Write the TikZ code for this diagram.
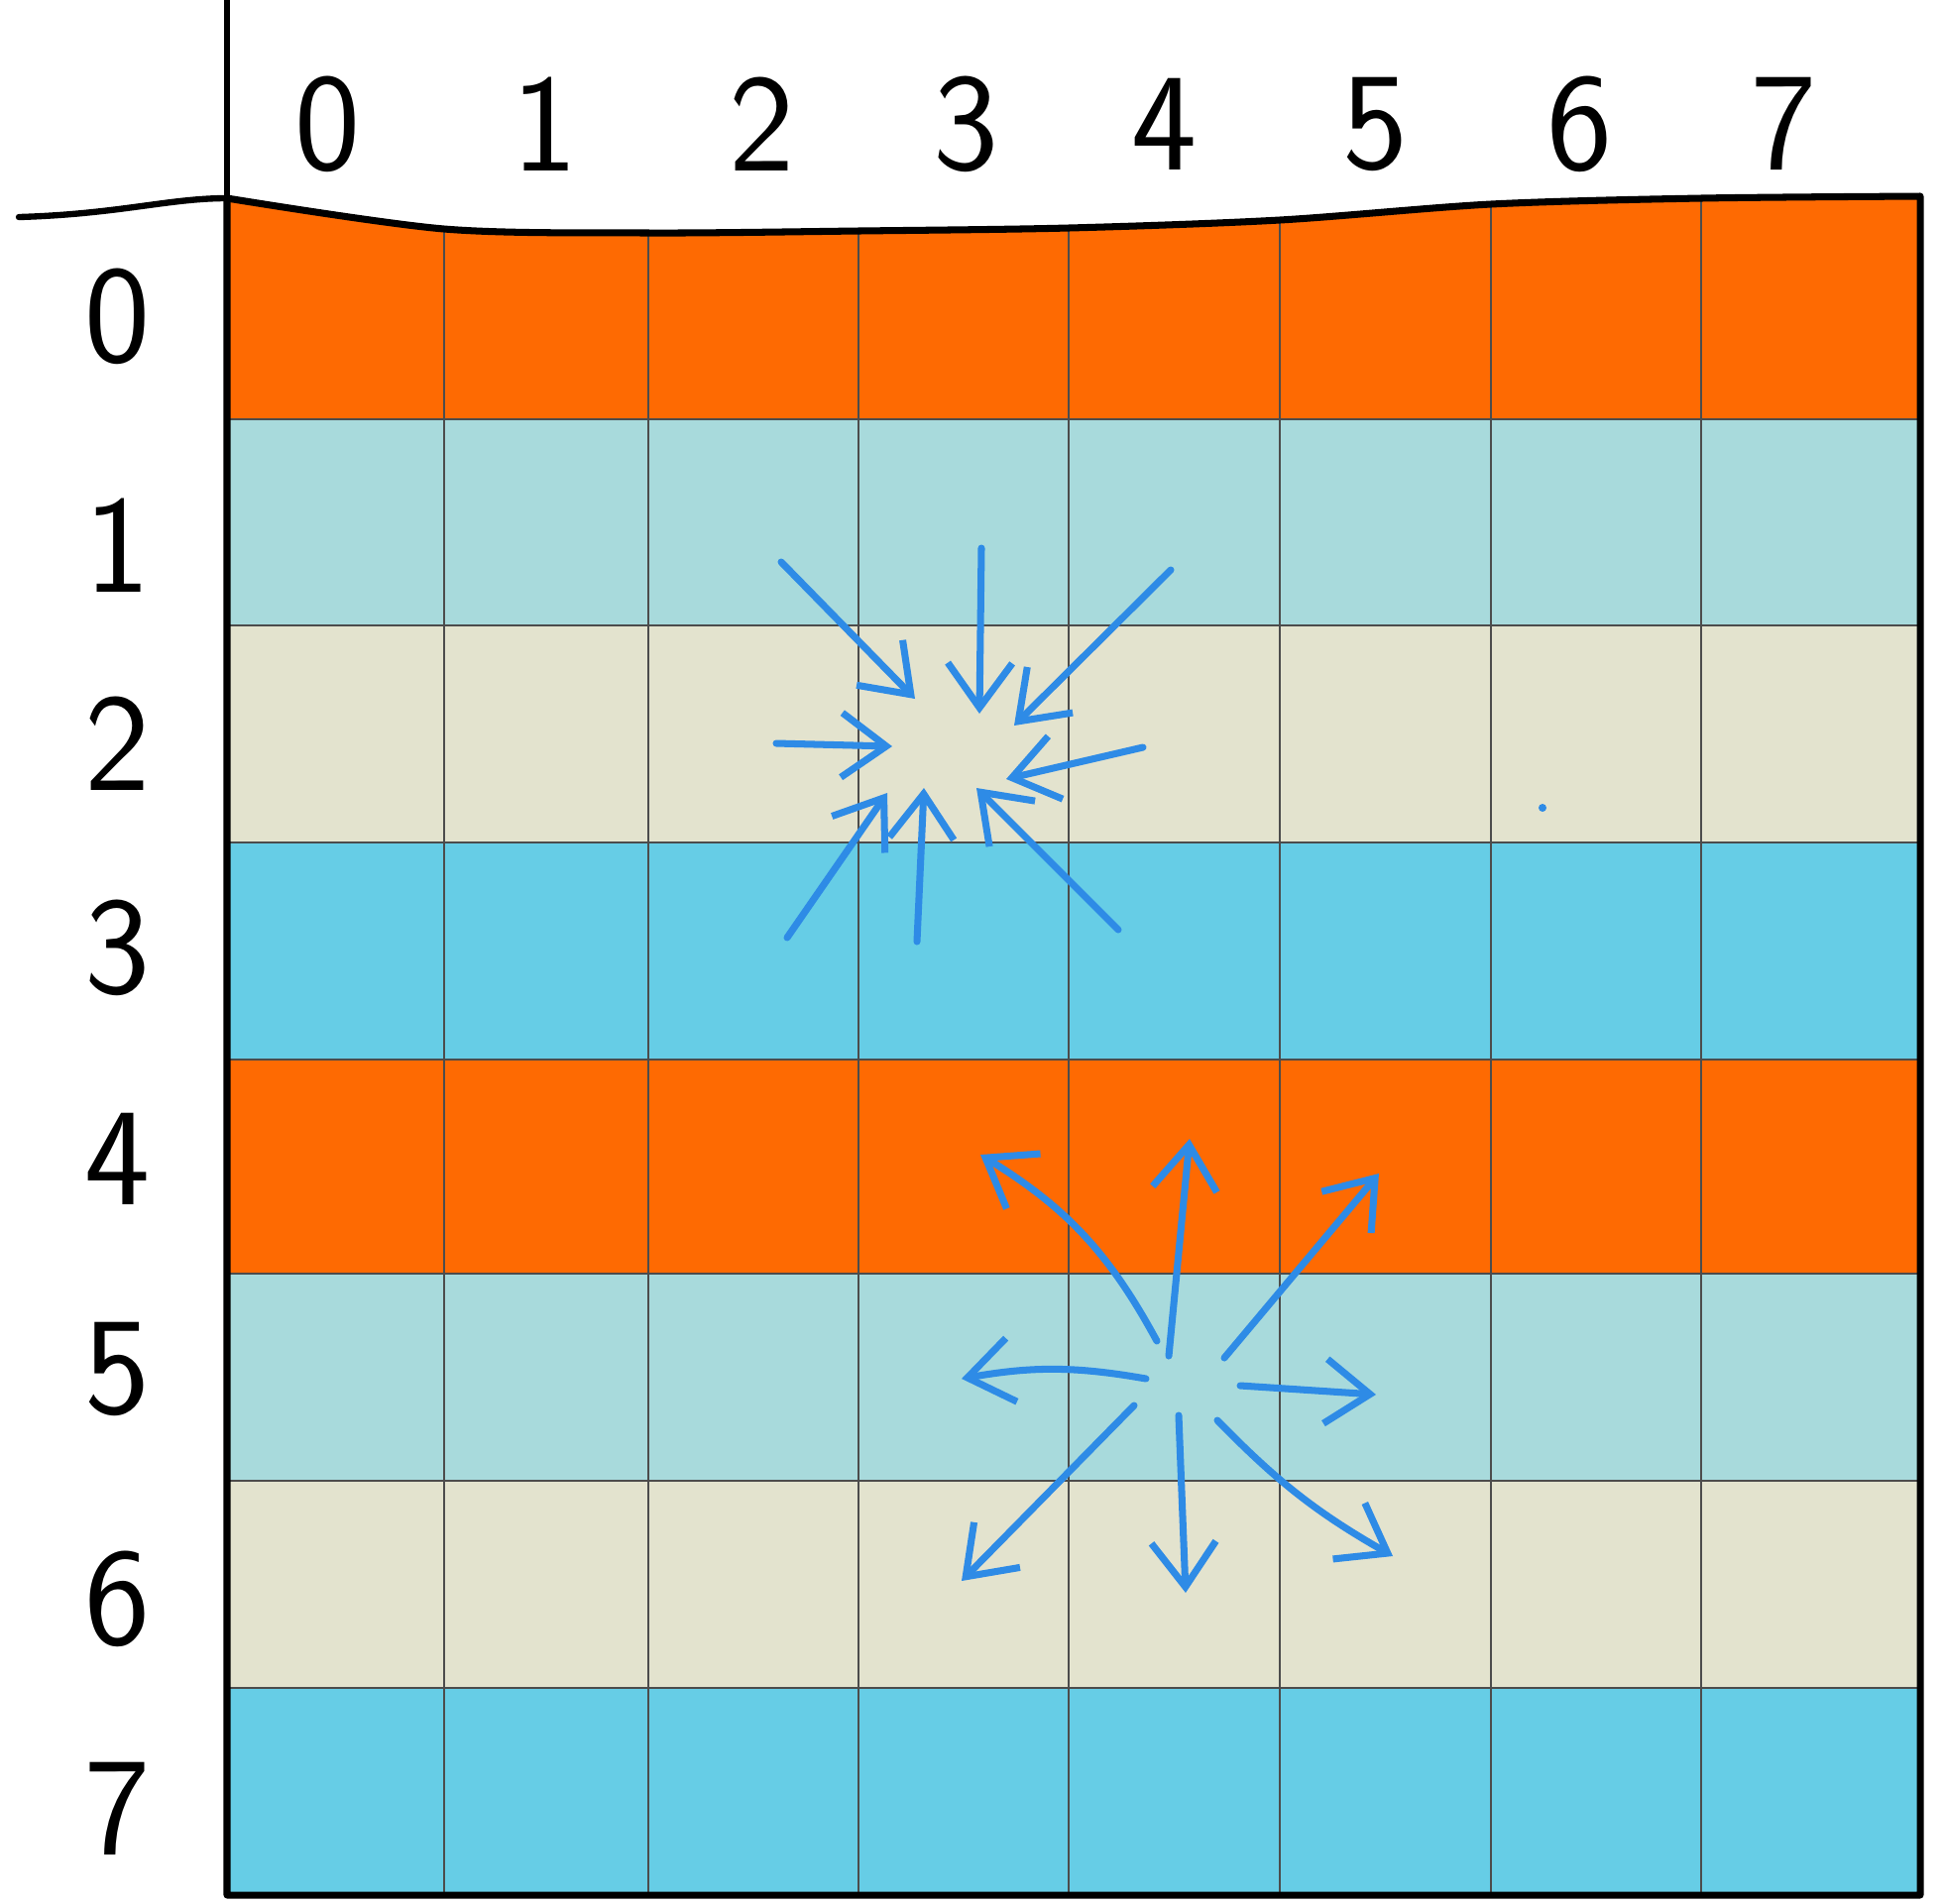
\documentclass[tikz,border=0pt]{standalone}
\usetikzlibrary{arrows.meta}

\definecolor{roworange}{HTML}{FE6A02}
\definecolor{rowteal}{HTML}{A8DADC}
\definecolor{rowbeige}{HTML}{E3E3CE}
\definecolor{rowsky}{HTML}{66CDE6}
\definecolor{penblue}{HTML}{2E8BE6}

\begin{document}
\begin{tikzpicture}[x=0.01cm,y=-0.01cm,>={Straight Barb[length=4.5mm,width=6.5mm]},
  lbl/.style={font=\sffamily\fontsize{40}{40}\selectfont, inner sep=0pt},
  cellline/.style={draw=black!70, line width=0.6pt},
  axis/.style={draw=black, line width=1.8pt, line cap=round},
  border/.style={draw=black, line width=2pt, line join=round},
  arr/.style={->, draw=penblue, line width=2pt, line cap=round}]
  \useasboundingbox (0,0) rectangle (1960,1920);

  %rows (row 0 has the wavy top edge)
  \fill[roworange] plot[smooth] coordinates {(229,200) (448,231) (654,235) (866,233) (1078,230) (1291,222) (1504,206) (1716,200) (1937,198)}
    -- (1937,423) -- (229,423) -- cycle;
  \foreach \top/\bot/\col in {423/631/rowteal, 631/850/rowbeige, 850/1069/rowsky, 1069/1285/roworange,
                             1285/1494/rowteal, 1494/1703/rowbeige, 1703/1912/rowsky}
    \fill[\col] (229,\top) rectangle (1937,\bot);

  %cell lines
  \foreach \y in {423,631,850,1069,1285,1494,1703}
    \draw[cellline] (229,\y) -- (1937,\y);
  \foreach \x/\t in {448/231, 654/235, 866/233, 1078/230, 1291/222, 1504/206, 1716/200}
    \draw[cellline] (\x,\t) -- (\x,1912);

  %outer border and axes
  \coordinate (org) at (229,200);
  \draw[border] plot[smooth] coordinates {(229,200) (448,231) (654,235) (866,233) (1078,230) (1291,222) (1504,206) (1716,200) (1937,198)}
    -- (1937,1912) -- (229,1912) -- cycle;
  \draw[axis] (229,0) -- (org);
  \draw[axis] (19,219) .. controls (120,216) and (170,200) .. (org);

  %column labels
  \foreach \i/\x in {0/331,1/550,2/769,3/975,4/1175,5/1388,6/1594,7/1800}
    \node[lbl] (col\i) at (\x,125) {\i};
  %row labels
  \foreach \i/\y in {0/319,1/550,2/750,3/956,4/1169,5/1381,6/1613,7/1825}
    \node[lbl] (row\i) at (119,\y) {\i};

  %arrows pointing in (row 2, col 3)
  \foreach \n/\sx/\sy/\ex/\ey in {nw/788/567/923/705, n/990/553/988/720, ne/1181/575/1023/732,
                                  w/783/750/900/753, e/1153/754/1015/786,
                                  sw/794/946/895/800, s/925/950/932/795, se/1128/938/985/795}
  {
    \coordinate (in\n s) at (\sx,\sy);
    \coordinate (in\n e) at (\ex,\ey);
    \draw[arr] (in\n s) -- (in\n e);
  }

  %arrows pointing out (row 5, col 4)
  \foreach \n/\sx/\sy/\ex/\ey/\b in {nw/1167/1353/989/1165/15, n/1179/1368/1200/1149/0, ne/1235/1370/1391/1184/0,
                                     w/1156/1391/970/1391/10, e/1251/1398/1388/1407/0,
                                     sw/1144/1418/970/1595/0, s/1189/1428/1196/1607/0, se/1228/1433/1405/1570/8}
  {
    \coordinate (out\n s) at (\sx,\sy);
    \coordinate (out\n e) at (\ex,\ey);
    \draw[arr] (out\n s) to[bend right=\b] (out\n e);
  }

  %stray pen dot
  \fill[penblue] (1556,815) circle (4);
\end{tikzpicture}
\end{document}
